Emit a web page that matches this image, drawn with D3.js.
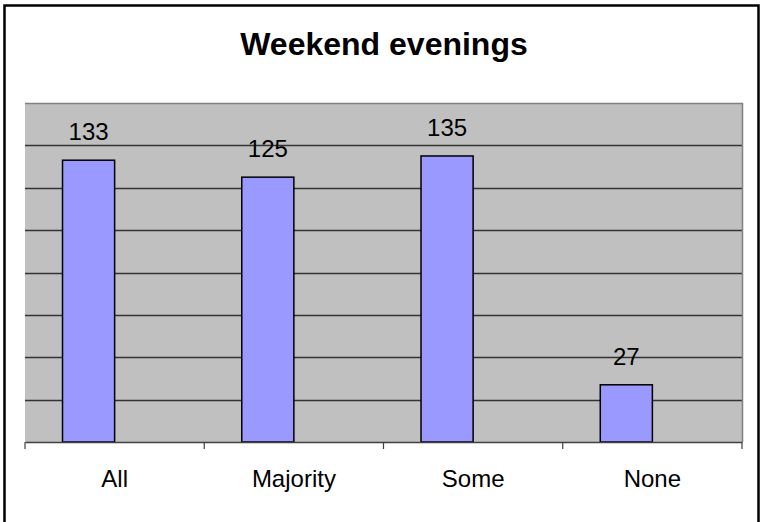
<!DOCTYPE html>
<html>
<head>
<meta charset="utf-8">
<script src="https://cdn.jsdelivr.net/npm/d3@7"></script>
<style>
  body { margin: 0; background: #fff; }
  svg { display: block; font-family: "Liberation Sans", Arial, sans-serif; }
</style>
</head>
<body>
<svg id="chart" width="763" height="522"></svg>
<script>
// chart data
const categories = ["All", "Majority", "Some", "None"];
const counts = [133, 125, 135, 27];
const yTicks = [0, 20, 40, 60, 80, 100, 120, 140, 160];
const series = ["count", "blank"]; // second (empty) series keeps bars left of centre

const svg = d3.select("#chart");

// outer frame (bottom edge falls outside the picture)
svg.append("rect")
  .attr("x", 4.5).attr("y", 5.5)
  .attr("width", 754).attr("height", 530)
  .attr("fill", "#fff")
  .attr("stroke", "#000")
  .attr("stroke-width", 2.5);

svg.append("text")
  .attr("x", 384).attr("y", 55)
  .attr("text-anchor", "middle")
  .style("font-size", "32px")
  .style("font-weight", "bold")
  .text("Weekend evenings");

let plot = { left: 25, right: 742, top: 103, bottom: 442 };

let xScale = d3.scaleBand()
  .domain(categories)
  .range([plot.left, plot.right])
  .padding(0);

let inner = d3.scaleBand()
  .domain(series)
  .range([0, xScale.bandwidth()])
  .paddingInner(0)
  .paddingOuter(0.72);

let yScale = d3.scaleLinear()
  .domain([0, 160])
  .range([plot.bottom, plot.top]);

// plot area background
svg.append("rect")
  .attr("x", plot.left).attr("y", plot.top)
  .attr("width", plot.right - plot.left)
  .attr("height", plot.bottom - plot.top)
  .attr("fill", "#c0c0c0");

// gridlines
svg.append("g")
  .selectAll("line")
  .data(yTicks.filter(d => d > 0 && d < 160))
  .enter().append("line")
  .attr("x1", plot.left).attr("x2", plot.right)
  .attr("y1", d => Math.round(yScale(d)) + 0.5)
  .attr("y2", d => Math.round(yScale(d)) + 0.5)
  .attr("stroke", "#333")
  .attr("stroke-width", 1.3);

// plot border top/right
svg.append("path")
  .attr("d", `M${plot.left},${plot.top + 0.5}H${plot.right + 0.5}V${plot.bottom}`)
  .attr("fill", "none")
  .attr("stroke", "#808080")
  .attr("stroke-width", 1.5);

// bars
let bars = svg.append("g");
bars.selectAll("rect")
  .data(counts)
  .enter().append("rect")
  .attr("x", (d, i) => xScale(categories[i]) + inner("count"))
  .attr("y", d => yScale(d))
  .attr("width", inner.bandwidth())
  .attr("height", d => plot.bottom - yScale(d))
  .attr("fill", "#9999ff")
  .attr("stroke", "#000")
  .attr("stroke-width", 1.5);

// value labels
bars.selectAll("text")
  .data(counts)
  .enter().append("text")
  .attr("x", (d, i) => xScale(categories[i]) + inner("count") + inner.bandwidth() / 2)
  .attr("y", d => yScale(d) - 20)
  .attr("text-anchor", "middle")
  .style("font-size", "24px")
  .attr("fill", "#000")
  .text(d => d);

// x axis
let xAxis = d3.axisBottom(xScale).tickSize(0).tickPadding(28);
let gx = svg.append("g")
  .attr("transform", "translate(0," + plot.bottom + ")")
  .call(xAxis);
gx.select(".domain").attr("stroke", "#404040").attr("stroke-width", 1.5);
gx.selectAll("text")
  .style("font-size", "24px")
  .style("font-family", "'Liberation Sans', Arial, sans-serif")
  .attr("fill", "#000");

// category boundary ticks
let bounds = categories.map(c => xScale(c)).concat([plot.right]);
gx.selectAll("line.bound")
  .data(bounds)
  .enter().append("line")
  .attr("class", "bound")
  .attr("x1", d => d).attr("x2", d => d)
  .attr("y1", 0).attr("y2", 7)
  .attr("stroke", "#404040")
  .attr("stroke-width", 1.2);
</script>
</body>
</html>
